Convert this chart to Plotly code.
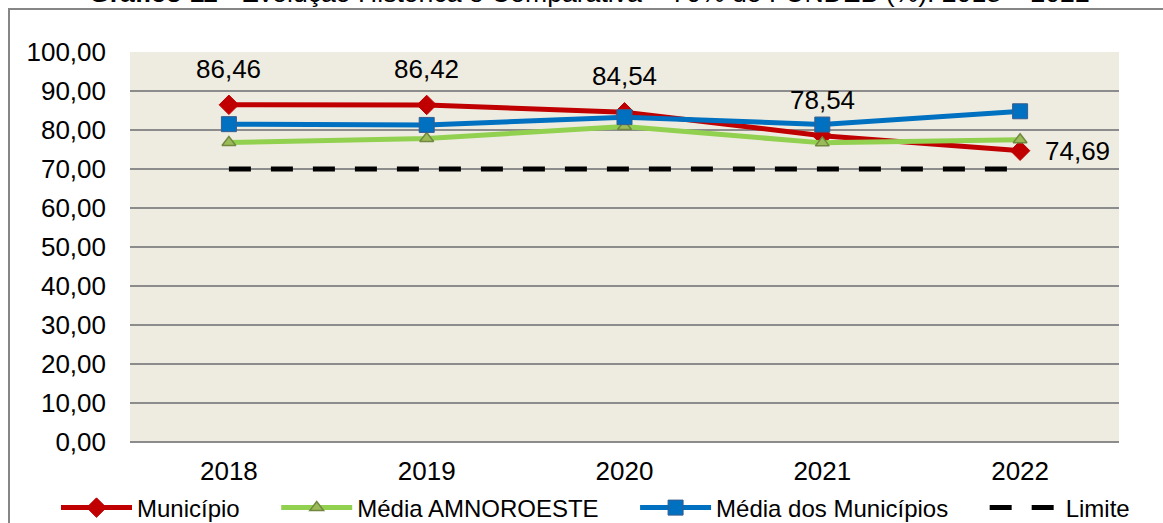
import plotly.graph_objects as go

years = ["2018", "2019", "2020", "2021", "2022"]
municipio = [86.46, 86.42, 84.54, 78.54, 74.69]
media_amnoroeste = [76.8, 77.8, 80.9, 76.7, 77.5]
media_municipios = [81.5, 81.3, 83.3, 81.4, 84.8]
limite = [70, 70, 70, 70, 70]
series_names = ["Município", "Média AMNOROESTE", "Média dos Municípios", "Limite"]
title_text = "<b>Gráfico 11</b> - Evolução Histórica e Comparativa – 70% do FUNDEB (%): 2018 – 2022"

FONT = "Liberation Sans, Arial, sans-serif"
PAD = "\u00a0" * 4 + "\u2009"  # extra spacing between legend entries

fig = go.Figure()
fig.add_trace(go.Scatter(
    x=years, y=municipio, name=series_names[0] + PAD, mode="lines+markers",
    line=dict(color="#C00000", width=5),
    marker=dict(symbol="diamond", size=15, color="#C00000", line=dict(color="#C00000", width=1)),
))
fig.add_trace(go.Scatter(
    x=years, y=media_amnoroeste, name=series_names[1] + PAD, mode="lines+markers",
    line=dict(color="#92D050", width=5),
    marker=dict(symbol="triangle-up", size=12, color="#9BBB59", line=dict(color="#71893F", width=1.5)),
))
fig.add_trace(go.Scatter(
    x=years, y=media_municipios, name=series_names[2] + PAD, mode="lines+markers",
    line=dict(color="#0070C0", width=5),
    marker=dict(symbol="square", size=15, color="#0070C0", line=dict(color="#3A5C8C", width=1)),
))
fig.add_trace(go.Scatter(
    x=years, y=limite, name=series_names[3], mode="lines",
    line=dict(color="#000000", width=5, dash="22px,20px"),
))

# data labels for Município
for i, v in enumerate(municipio):
    txt = f"{v:.2f}".replace(".", ",")
    if i < len(municipio) - 1:
        fig.add_annotation(x=i, y=v, xref="x", yref="y", text=txt, showarrow=False, yshift=36,
                           font=dict(family=FONT, size=26, color="#000000"))
    else:
        fig.add_annotation(x=i, y=v, xref="x", yref="y", text=txt, showarrow=False,
                           xanchor="left", xshift=23,
                           font=dict(family=FONT, size=26, color="#000000"))

# title (partially cut off at the top as in the reference)
fig.add_annotation(xref="paper", yref="paper", x=0.465, y=(442 - 10.5) / 390, yanchor="bottom",
                   text=title_text, showarrow=False,
                   font=dict(family=FONT, size=26.6, color="#000000"))

# outer border
fig.add_shape(type="rect", xref="paper", yref="paper",
              x0=(9 - 130) / 989, x1=1.2, y0=-0.5, y1=(442 - 9) / 390,
              line=dict(color="#868686", width=2), fillcolor="rgba(0,0,0,0)", layer="below")

fig.update_layout(
    width=1163, height=523,
    margin=dict(l=130, r=44, t=52, b=81, autoexpand=False),
    paper_bgcolor="#FFFFFF",
    plot_bgcolor="#EEECE1",
    separators=",.",
    font=dict(family=FONT, size=26, color="#000000"),
    showlegend=True,
    legend=dict(orientation="h", x=(56 - 130) / 989, xanchor="left",
                y=(442 - 508) / 390, yanchor="middle",
                font=dict(family=FONT, size=24, color="#000000"),
                bgcolor="rgba(0,0,0,0)", itemwidth=71, traceorder="normal"),
    xaxis=dict(type="category", range=[-0.5, 4.5], showgrid=False, zeroline=False,
               showline=False, ticks="", ticklabelstandoff=11,
               tickfont=dict(family=FONT, size=26, color="#000000")),
    yaxis=dict(range=[0, 100], dtick=10, tickformat=".2f", showgrid=True,
               gridcolor="#8C8C8C", gridwidth=2, zeroline=True, zerolinecolor="#8C8C8C",
               zerolinewidth=2, showline=False, ticks="", ticklabelstandoff=23,
               tickfont=dict(family=FONT, size=26, color="#000000")),
)

fig.write_html("out.html", config={"displayModeBar": False},
               post_script="document.body.style.margin='0px';")
